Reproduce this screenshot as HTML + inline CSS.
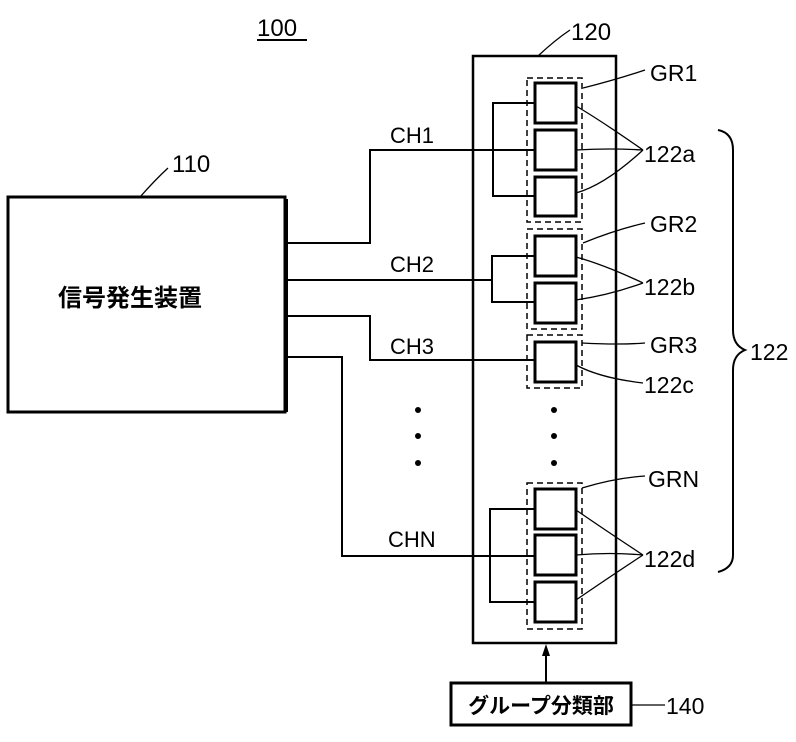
<!DOCTYPE html>
<html><head><meta charset="utf-8"><style>
body{margin:0;background:#fff}
svg{display:block}
text{font-family:"Liberation Sans","Noto Sans CJK JP",sans-serif;fill:#000}
</style></head><body>
<svg width="796" height="742" viewBox="0 0 796 742" xmlns="http://www.w3.org/2000/svg">
<g fill="none" stroke="#000">
<rect x="8" y="197" width="277" height="215" stroke-width="3"/>
<line x1="286" y1="199" x2="286" y2="412" stroke-width="4"/>
<rect x="473" y="56" width="143" height="587" stroke-width="2.5"/>
<g stroke-dasharray="6,4" stroke-width="1.5">
<rect x="527" y="78" width="55" height="144"/>
<rect x="527" y="229" width="55" height="100"/>
<rect x="527" y="335" width="55" height="53"/>
<rect x="527" y="483" width="55" height="146"/>
</g>
<g stroke-width="3">
<rect x="535" y="83" width="41" height="40"/>
<rect x="535" y="130" width="41" height="40"/>
<rect x="535" y="177" width="41" height="39"/>
<rect x="535" y="236" width="41" height="40"/>
<rect x="535" y="283" width="41" height="40"/>
<rect x="535" y="342" width="41" height="40"/>
<rect x="535" y="489" width="41" height="40"/>
<rect x="535" y="535" width="41" height="40"/>
<rect x="535" y="582" width="41" height="40"/>
</g>
<g stroke-width="2">
<polyline points="535,103 493,103 493,196 535,196"/>
<polyline points="287,243 370,243 370,150 535,150"/>
<polyline points="535,256 492,256 492,302 535,302"/>
<line x1="287" y1="280" x2="492" y2="280"/>
<polyline points="287,316 370,316 370,360 535,360"/>
<polyline points="287,357 342,357 342,556 535,556"/>
<polyline points="535,509 490,509 490,602 535,602"/>
</g>
<g stroke-width="1.3">
<path d="M538,56 Q555,40 570,30"/>
<path d="M140,197 Q155,180 168,168"/>
<path d="M583,88 Q615,80 645,70"/>
<path d="M576,106 Q600,120 643,150 M576,150 Q610,148 643,150 M576,193 Q605,185 643,150"/>
<path d="M583,243 Q615,230 645,223"/>
<path d="M576,257 Q605,265 643,283 M576,300 Q610,295 643,283"/>
<path d="M582,343 Q620,345 645,343"/>
<path d="M576,365 Q600,378 643,383"/>
<path d="M582,488 Q615,478 645,476"/>
<path d="M576,510 Q605,530 643,555 M576,555 Q610,552 643,555 M576,600 Q605,580 643,555"/>
<path d="M632,705 L665,705"/>
<path d="M718,130 Q733,133 733,150 L733,330 Q733,345 745,350 Q733,355 733,370 L733,555 Q733,568 718,572" stroke-width="2"/>
</g>
<rect x="451" y="683" width="180" height="42" stroke-width="3"/>
<line x1="546" y1="683" x2="546" y2="652" stroke-width="2"/>
</g>
<polygon points="546,644 542,656 550,656" fill="#000"/>
<g fill="#000">
<circle cx="418" cy="410" r="3"/><circle cx="418" cy="436" r="3"/><circle cx="418" cy="463" r="3"/>
<circle cx="554" cy="410" r="3"/><circle cx="554" cy="436" r="3"/><circle cx="554" cy="463" r="3"/>
</g>
<text x="257" y="36" font-size="24">100</text>
<line x1="257" y1="40" x2="307" y2="40" stroke="#000" stroke-width="2"/>
<text x="571" y="40" font-size="24">120</text>
<text x="172" y="172" font-size="24">110</text>
<text x="130" y="306" font-size="24" font-weight="bold" text-anchor="middle">信号発生装置</text>
<text x="390" y="143" font-size="22">CH1</text>
<text x="390" y="272" font-size="22">CH2</text>
<text x="390" y="354" font-size="22">CH3</text>
<text x="388" y="547" font-size="22">CHN</text>
<text x="650" y="81" font-size="23">GR1</text>
<text x="644" y="162" font-size="23">122a</text>
<text x="650" y="232" font-size="23">GR2</text>
<text x="644" y="295" font-size="23">122b</text>
<text x="650" y="353" font-size="23">GR3</text>
<text x="644" y="393" font-size="23">122c</text>
<text x="648" y="487" font-size="23">GRN</text>
<text x="644" y="567" font-size="23">122d</text>
<text x="750" y="360" font-size="23">122</text>
<text x="666" y="714" font-size="23">140</text>
<text x="541" y="713" font-size="21" font-weight="bold" text-anchor="middle">グループ分類部</text>
</svg>
</body></html>
